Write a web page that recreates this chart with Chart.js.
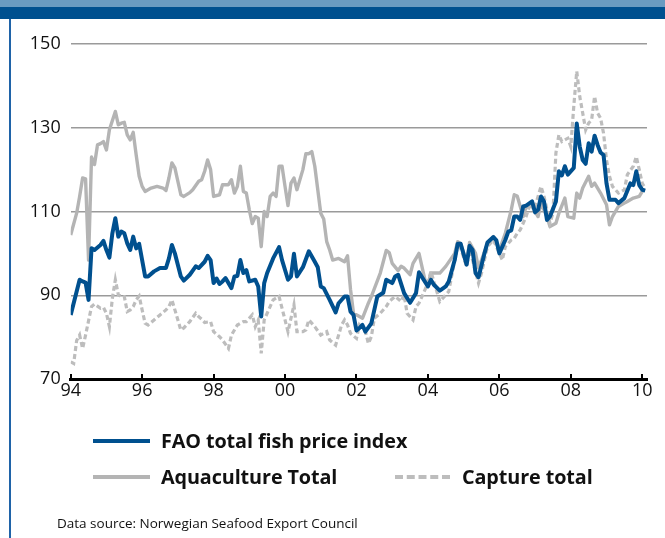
<!DOCTYPE html>
<html lang="en">
<head>
  <meta charset="UTF-8">
  <title>FAO fish price index</title>
  <script src="https://cdn.jsdelivr.net/npm/chart.js"></script>
  <style>
    body { margin: 0; width: 665px; height: 538px; position: relative; overflow: hidden; background: #fff; font-family: 'Open Sans', sans-serif; color: #111; }
    #topBand { position: absolute; left: 0; top: 0; width: 665px; height: 7px; background: #6a9bc1; }
    #darkBand { position: absolute; left: 0; top: 7px; width: 665px; height: 12px; background: #00508f; }
    #leftRule { position: absolute; left: 9px; top: 19px; width: 1.5px; height: 519px; background: #1f63a8; }
    canvas { position: absolute; left: 0; top: 0; }
    .key { position: absolute; height: 4px; width: 57px; left: 93px; }
    .lbl { position: absolute; font-weight: bold; font-size: 19.8px; line-height: 24px; white-space: nowrap; letter-spacing: -0.1px; }
    #source { position: absolute; left: 57px; top: 513px; font-size: 13.5px; line-height: 20px; white-space: nowrap; }
  </style>
</head>
<body>
  <div id="topBand"></div>
  <div id="darkBand"></div>
  <div id="leftRule"></div>
  <canvas id="fishChart" width="665" height="538"></canvas>

  <div class="key" style="top:439px; background:#00508f;"></div>
  <div class="lbl" style="left:161px; top:429px;">FAO total fish price index</div>
  <div class="key" style="top:475px; background:#b4b4b4;"></div>
  <div class="lbl" style="left:161px; top:465px;">Aquaculture Total</div>
  <div class="key" style="top:475px; left:395px; width:55px; height:0; border-top:4px dashed #bdbdbd; background:none;"></div>
  <div class="lbl" style="left:462px; top:465px;">Capture total</div>
  <div id="source">Data source: Norwegian Seafood Export Council</div>

  <script>
    // months counted from Jan 1994
    const tickLabels = ['94', '96', '98', '00', '02', '04', '06', '08', '10'];

    const faoMonths = [0, 3, 4, 5, 6, 7, 8, 10, 11, 12, 13, 14, 15, 16, 17, 18, 19, 20, 21, 22, 23, 24, 25, 26, 28, 30, 32, 33, 34, 35, 37, 38, 40, 41, 42, 43, 45, 46, 47, 48, 49, 50, 51, 52, 54, 55, 56, 57, 58, 59, 60, 62, 63, 64, 65, 66, 68, 70, 71, 73, 74, 75, 76, 78, 80, 82, 83, 84, 85, 87, 89, 90, 92, 93, 94, 95, 96, 97, 98, 99, 101, 102, 103, 105, 106, 108, 109, 110, 112, 114, 116, 117, 120, 121, 122, 124, 126, 127, 129, 130, 131, 133, 134, 135, 136, 137, 139, 140, 142, 143, 144, 146, 147, 148, 149, 150, 151, 152, 153, 155, 156, 157, 158, 159, 160, 161, 163, 164, 165, 166, 167, 169, 170, 171, 172, 173, 174, 175, 176, 177, 178, 179, 180, 181, 183, 184, 186, 188, 189, 190, 191, 192, 193];
    const faoIndex = [85.3, 93.7, 93.3, 93.0, 88.9, 101.2, 100.8, 102, 103, 100.8, 99, 104.8, 108.4, 104, 105.2, 104.8, 102.4, 100.8, 104, 101.2, 102.3, 98.4, 94.5, 94.5, 95.7, 96.5, 96.5, 98.8, 102, 100, 94.5, 93.5, 94.9, 95.9, 96.9, 96.5, 98, 99.4, 98.4, 92.9, 94, 92.7, 93.3, 94.1, 91.7, 94.5, 94.6, 98.4, 95.3, 96, 93.3, 93.7, 92.1, 84.9, 92.9, 95.3, 98.8, 101.5, 98.4, 93.7, 94.5, 99.9, 94.5, 96.7, 100.5, 98, 96.7, 92.1, 91.7, 88.9, 85.9, 88.1, 89.7, 89.7, 86.1, 85.3, 81.6, 82.2, 82.9, 81.3, 83.3, 86.5, 89.7, 90.6, 93.7, 92.9, 94.5, 94.9, 90.5, 88.2, 90.5, 95.5, 92.1, 93.7, 92.5, 91.1, 92.1, 93.3, 98.4, 102.3, 102.3, 97.3, 101.8, 100.8, 95.3, 94.3, 100, 102.6, 103.9, 103.1, 100, 103.2, 105.2, 105.5, 108.8, 108.8, 108, 111.2, 111.4, 112.4, 109.8, 110.4, 113.6, 112.4, 108, 108.8, 112.4, 119.6, 118.6, 120.8, 118.8, 120.4, 131, 125.5, 122.3, 121.4, 126.3, 124.3, 128.1, 125.9, 124.1, 123.5, 116.7, 112.8, 112.8, 112, 113.2, 116.7, 116.3, 119.6, 116.3, 115.2, 115];

    const aquaMonths = [0, 2, 3, 4, 5, 6, 7, 8, 9, 10, 11, 12, 13, 15, 16, 17, 18, 19, 20, 21, 22, 23, 24, 25, 27, 29, 31, 32, 33, 34, 35, 37, 38, 40, 41, 43, 44, 45, 46, 47, 48, 50, 51, 53, 54, 55, 56, 57, 58, 59, 60, 61, 62, 63, 64, 65, 66, 67, 68, 69, 70, 71, 72, 73, 74, 75, 76, 78, 79, 80, 81, 82, 84, 85, 86, 87, 88, 90, 92, 93, 94, 95, 97, 98, 100, 101, 104, 106, 107, 108, 110, 111, 112, 114, 115, 117, 119, 120, 121, 124, 126, 129, 130, 131, 133, 134, 136, 137, 138, 140, 142, 144, 146, 148, 149, 150, 152, 153, 155, 157, 158, 160, 161, 163, 164, 166, 167, 169, 170, 171, 172, 174, 175, 176, 178, 180, 181, 182, 184, 186, 187, 189, 191, 192];
    const aquaIndex = [104.4, 109.6, 113.6, 118, 117.8, 98.4, 123, 121.2, 125.9, 126.2, 126.7, 124.7, 129.5, 133.9, 130.7, 131.1, 131.3, 128.3, 127.1, 128.9, 123.5, 118.4, 116, 114.8, 115.6, 116, 115.6, 115, 118, 121.6, 120.4, 114, 113.6, 114.5, 115.2, 117.2, 117.6, 119.6, 122.3, 120, 113.6, 114, 116.4, 116.4, 117.6, 114.4, 116, 120.8, 114.8, 114.4, 110.4, 107.1, 108.8, 108.4, 101.6, 110, 108.8, 113.6, 114.4, 113.6, 120.8, 120.8, 116, 111.4, 116.8, 118, 115.2, 120, 123.8, 123.8, 124.3, 120.8, 109.6, 108.2, 102.8, 100.8, 98.4, 98.8, 98, 99.4, 91.4, 85.7, 84.9, 84.5, 88.1, 89.7, 95.3, 100.7, 100.2, 97.6, 95.9, 96.9, 96.5, 94.9, 97.6, 100, 93.7, 92.5, 95.3, 95.3, 96.9, 100, 102.8, 102.3, 98, 102.6, 100, 96.5, 98.4, 102.3, 104, 100.8, 104.8, 110.4, 114, 113.7, 108.8, 111.2, 111.2, 108.8, 112, 108.8, 106.4, 107.2, 109.6, 113.2, 108.8, 108.4, 114.4, 113.2, 115.6, 118.4, 116, 116.8, 114.4, 111.6, 106.8, 108.8, 111.2, 112, 112.4, 113.2, 113.6, 114.8];

    const captureMonths = [0, 1, 2, 3, 4, 5, 7, 8, 10, 11, 12, 13, 14, 15, 16, 17, 18, 19, 20, 21, 22, 23, 24, 25, 26, 28, 30, 31, 32, 33, 34, 35, 37, 38, 40, 42, 43, 44, 45, 47, 48, 50, 51, 53, 54, 56, 58, 59, 61, 62, 63, 64, 65, 66, 68, 70, 72, 73, 75, 76, 78, 79, 80, 82, 84, 86, 87, 89, 91, 92, 93, 94, 96, 97, 99, 100, 101, 102, 104, 106, 107, 109, 111, 112, 113, 115, 116, 117, 120, 121, 123, 124, 126, 127, 129, 130, 131, 133, 134, 135, 137, 138, 140, 142, 143, 145, 146, 148, 149, 150, 151, 153, 154, 156, 158, 159, 161, 162, 163, 164, 165, 167, 168, 169, 170, 171, 172, 173, 174, 175, 176, 177, 178, 179, 180, 181, 182, 184, 186, 187, 189, 190, 191, 192, 193];
    const captureIndex = [74.1, 73.7, 79.2, 80.5, 77.3, 80.5, 87.3, 87.9, 86.9, 87.1, 85.7, 82.5, 89.3, 93.7, 90.1, 89.7, 89.7, 86.1, 86.5, 87.3, 88.9, 89.8, 86.5, 83.3, 82.9, 84.1, 85.3, 85.9, 86.5, 87.3, 88.9, 86.5, 81.7, 82.2, 83.7, 85.7, 84.9, 84.3, 83.5, 83.7, 81.3, 80.1, 79.3, 77.3, 80.5, 82.9, 83.7, 83.7, 85.3, 82.5, 84.1, 76.1, 84.1, 85.7, 88.9, 89.7, 84.1, 81.3, 87.7, 81.3, 81.3, 81.7, 84.1, 82.5, 80.5, 81.3, 79.3, 78.1, 82.9, 84.1, 82.9, 80.9, 79.7, 82.9, 81.3, 78.5, 80.1, 84.5, 85.7, 87.3, 88.5, 89.7, 88.5, 90.1, 85.7, 84.1, 87.3, 88.1, 92.9, 95.7, 90.9, 88.5, 90.1, 90.9, 98.4, 101.6, 101.2, 96.9, 100.8, 98.4, 92.9, 95.3, 101.6, 103.2, 101.6, 98.4, 101.6, 103.2, 103.6, 104.8, 105.6, 108.8, 111.2, 111.2, 116, 113.6, 107.2, 109.6, 124, 128.3, 126.7, 127.5, 125.5, 135.1, 143.5, 137.5, 133.5, 129.5, 131.1, 131.9, 137.5, 133.5, 132.3, 128.7, 122.3, 118.4, 116, 114.4, 115.2, 118.8, 120.8, 123.1, 120, 116.7, 115.6];

    function toPoints(months, values) {
      return months.map((m, i) => ({ x: m, y: values[i] }));
    }

    const ctx = document.getElementById('fishChart').getContext('2d');
    new Chart(ctx, {
      type: 'line',
      data: {
        datasets: [
          {
            label: 'FAO total fish price index',
            data: toPoints(faoMonths, faoIndex),
            borderColor: '#00508f',
            borderWidth: 4,
            pointRadius: 0,
            tension: 0,
            borderJoinStyle: 'round'
          },
          {
            label: 'Capture total',
            data: toPoints(captureMonths, captureIndex),
            borderColor: '#bdbdbd',
            borderWidth: 3.2,
            borderDash: [5, 3],
            pointRadius: 0,
            tension: 0
          },
          {
            label: 'Aquaculture Total',
            data: toPoints(aquaMonths, aquaIndex),
            borderColor: '#b4b4b4',
            borderWidth: 3.4,
            pointRadius: 0,
            tension: 0,
            borderJoinStyle: 'round'
          }
        ]
      },
      options: {
        responsive: false,
        animation: false,
        layout: { padding: { left: 0, right: 18, top: 44, bottom: 129 } },
        plugins: { legend: { display: false }, tooltip: { enabled: false } },
        scales: {
          x: {
            type: 'linear',
            min: 0,
            max: 193.6,
            afterFit: (scale) => { scale.height = 30; },
            border: { display: true, color: '#000', width: 3 },
            grid: { drawOnChartArea: false, drawTicks: true, tickLength: -5, color: '#000', lineWidth: 2 },
            ticks: {
              stepSize: 24,
              includeBounds: false,
              autoSkip: false,
              maxRotation: 0,
              padding: 6,
              color: '#111',
              font: { family: 'Open Sans', size: 18 },
              callback: (v) => tickLabels[Math.round(v / 24)]
            }
          },
          y: {
            min: 70,
            max: 150,
            afterFit: (scale) => { scale.width = 70.7; },
            border: { display: false },
            grid: { drawTicks: false, color: '#9a9a9a', lineWidth: 1.5 },
            ticks: {
              stepSize: 20,
              padding: 10,
              color: '#111',
              font: { family: 'Open Sans', size: 18 }
            }
          }
        }
      }
    });
  </script>
</body>
</html>
